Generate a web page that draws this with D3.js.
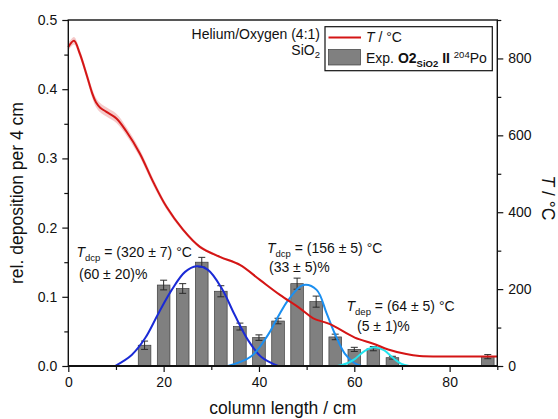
<!DOCTYPE html>
<html>
<head>
<meta charset="utf-8">
<script src="https://cdn.jsdelivr.net/npm/d3@7"></script>
<style>
  html, body { margin: 0; padding: 0; background: #fff; }
  svg { display: block; font-family: Arial, "Liberation Sans", Helvetica, sans-serif; }
</style>
</head>
<body>
<svg id="chart" width="558" height="419"></svg>
<script>
// Deposition bins (column position in cm, relative deposition per 4 cm, uncertainty)
const binCenters = [16, 20, 24, 28, 32, 36, 40, 44, 48, 52, 56, 60, 64, 68, 88];
const binValues  = [0.030, 0.117, 0.112, 0.150, 0.108, 0.057, 0.041, 0.065, 0.119, 0.093, 0.042, 0.024, 0.025, 0.012, 0.0135];
const binErrors  = [0.006, 0.007, 0.007, 0.007, 0.008, 0.005, 0.004, 0.004, 0.008, 0.008, 0.004, 0.003, 0.003, 0.002, 0.003];

// Temperature profile along the column (cm, °C) with its uncertainty band
const tempPos  = [0, 1.2, 2.4, 3.9, 5.0, 5.8, 6.7, 8.0, 10.1, 12.2, 15.0, 17.8, 20.6, 24.1, 27.6, 31.8, 36.0, 40.2, 44.4, 48.6, 51.4, 54.9, 60.1, 64.0, 67.1, 70.9, 73.7, 79.3, 85.0, 90.0];
const tempVals = [830, 846, 813, 755, 710, 686, 672, 661, 644, 610, 553, 479, 414, 354, 310, 284, 263, 224, 185, 150, 124, 109, 74, 58, 43, 31, 26, 24.5, 24.5, 24.5];
const tempErr  = [10, 10, 10, 11, 12, 12, 12, 12, 12, 11, 10, 9, 7, 5, 4, 3, 3, 2, 2, 2, 2, 2, 1.5, 1.5, 1, 1, 1, 1, 1, 1];

// Fitted deposition peaks (cm, relative deposition)
const peak320x = [9.8, 13.3, 16.1, 18.9, 21.7, 24.5, 26.9, 29.3, 32.2, 34.9, 37.7, 40.5, 44.0];
const peak320y = [0, 0.016, 0.040, 0.076, 0.110, 0.136, 0.144, 0.139, 0.112, 0.074, 0.0375, 0.013, 0];
const peak156x = [33.5, 38.4, 41.9, 44.0, 46.1, 49.3, 52.1, 54.2, 55.9, 58.0, 60.1, 61.5];
const peak156y = [0, 0.014, 0.045, 0.071, 0.095, 0.117, 0.110, 0.076, 0.047, 0.018, 0.004, 0];
const peak64x  = [56.5, 58.5, 60.1, 62.2, 64.3, 66.2, 67.1, 68.6, 69.9, 71.5];
const peak64y  = [0, 0.004, 0.010, 0.022, 0.027, 0.023, 0.018, 0.009, 0.003, 0];

// Axis ticks
const xTicks = [0, 20, 40, 60, 80];
const xMinorTicks = [10, 30, 50, 70, 90];
const yTicks = [0, 0.1, 0.2, 0.3, 0.4, 0.5];
const yMinorTicks = [0.05, 0.15, 0.25, 0.35, 0.45];
const tTicks = [0, 200, 400, 600, 800];
const tMinorTicks = [100, 300, 500, 700, 900];

const svg = d3.select("#chart");
const plotL = 68.3, plotR = 497.3, plotT = 20, plotB = 366;

const x = d3.scaleLinear().domain([0, 90]).range([plotL, plotR]);
const y = d3.scaleLinear().domain([0, 0.5]).range([plotB, plotT]);
const yT = d3.scaleLinear().domain([0, 900]).range([plotB, plotT]);

// Bars
const barW = x(2.65) - x(0);
svg.append("g").selectAll("rect").data(binCenters).join("rect")
  .attr("x", (d) => x(d) - barW / 2)
  .attr("width", barW)
  .attr("y", (d, i) => y(binValues[i]))
  .attr("height", (d, i) => y(0) - y(binValues[i]))
  .attr("fill", "#808080")
  .attr("stroke", "#3c3c3c")
  .attr("stroke-width", 0.7);

// Error bars
const eb = svg.append("g").attr("stroke", "#2a2a2a").attr("stroke-width", 1);
binCenters.forEach((c, i) => {
  const lo = y(binValues[i] - binErrors[i]), hi = y(binValues[i] + binErrors[i]);
  eb.append("line").attr("x1", x(c)).attr("x2", x(c)).attr("y1", lo).attr("y2", hi);
  eb.append("line").attr("x1", x(c) - 3.5).attr("x2", x(c) + 3.5).attr("y1", lo).attr("y2", lo);
  eb.append("line").attr("x1", x(c) - 3.5).attr("x2", x(c) + 3.5).attr("y1", hi).attr("y2", hi);
});

// Fit curves
const fitLine = d3.line().x((d) => x(d[0])).y((d) => y(d[1])).curve(d3.curveCatmullRom);
const fits = [
  { xs: peak320x, ys: peak320y, color: "#1a2ad6" },
  { xs: peak156x, ys: peak156y, color: "#1b8ff0" },
  { xs: peak64x,  ys: peak64y,  color: "#22e4ee" }
];
fits.forEach((f) => {
  svg.append("path")
    .datum(f.xs.map((v, i) => [v, f.ys[i]]))
    .attr("d", fitLine)
    .attr("fill", "none")
    .attr("stroke", f.color)
    .attr("stroke-width", 2);
});

// Temperature band and line
const tempData = tempPos.map((p, i) => ({ p, t: tempVals[i], e: tempErr[i] }));
svg.append("path").datum(tempData)
  .attr("d", d3.area().x((d) => x(d.p)).y0((d) => yT(d.t - d.e)).y1((d) => yT(d.t + d.e)).curve(d3.curveCatmullRom))
  .attr("fill", "#e88a8a").attr("opacity", 0.45);
svg.append("path").datum(tempData)
  .attr("d", d3.line().x((d) => x(d.p)).y((d) => yT(d.t)).curve(d3.curveCatmullRom))
  .attr("fill", "none").attr("stroke", "#d41515").attr("stroke-width", 2);

// Axes
const fmt1 = d3.format(".1f");
const axisStyle = (g) => {
  g.selectAll("text").attr("font-size", 14).attr("fill", "#111").attr("font-family", "Arial, 'Liberation Sans', sans-serif");
  g.selectAll("line").attr("stroke", "#111").attr("stroke-width", 1.2);
  g.select(".domain").remove();
};
svg.append("g").attr("transform", `translate(0,${plotB})`)
  .call(d3.axisBottom(x).tickValues(xTicks).tickSize(6).tickPadding(5)).call(axisStyle);
svg.append("g").attr("transform", `translate(0,${plotB})`)
  .call(d3.axisBottom(x).tickValues(xMinorTicks).tickSize(4).tickFormat("")).call(axisStyle);
svg.append("g").attr("transform", `translate(${plotL},0)`)
  .call(d3.axisLeft(y).tickValues(yTicks).tickSize(6).tickPadding(5).tickFormat(fmt1)).call(axisStyle);
svg.append("g").attr("transform", `translate(${plotL},0)`)
  .call(d3.axisLeft(y).tickValues(yMinorTicks).tickSize(4).tickFormat("")).call(axisStyle);
svg.append("g").attr("transform", `translate(${plotR},0)`)
  .call(d3.axisRight(yT).tickValues(tTicks).tickSize(6).tickPadding(5)).call(axisStyle);
svg.append("g").attr("transform", `translate(${plotR},0)`)
  .call(d3.axisRight(yT).tickValues(tMinorTicks).tickSize(4).tickFormat("")).call(axisStyle);

// Frame
svg.append("rect").attr("x", plotL).attr("y", plotT).attr("width", plotR - plotL).attr("height", plotB - plotT)
  .attr("fill", "none").attr("stroke", "#111").attr("stroke-width", 1.4);
svg.append("line").attr("x1", plotL).attr("x2", plotR).attr("y1", plotB).attr("y2", plotB)
  .attr("stroke", "#111").attr("stroke-width", 2);

// Axis titles
svg.append("text").attr("x", (plotL + plotR) / 2).attr("y", 414).attr("text-anchor", "middle")
  .attr("font-size", 17.5).attr("fill", "#111").text("column length / cm");
svg.append("text").attr("transform", `translate(23,${(plotT + plotB) / 2}) rotate(-90)`).attr("text-anchor", "middle")
  .attr("font-size", 17.5).attr("fill", "#111").text("rel. deposition per 4 cm");
const tLab = svg.append("text").attr("transform", `translate(542,198) rotate(90)`).attr("text-anchor", "middle")
  .attr("font-size", 17.5).attr("fill", "#111");
tLab.append("tspan").attr("font-style", "italic").text("T");
tLab.append("tspan").text(" / °C");

// Condition labels
svg.append("text").attr("x", 320).attr("y", 38.5).attr("text-anchor", "end").attr("font-size", 14).attr("fill", "#111")
  .text("Helium/Oxygen (4:1)");
const sio = svg.append("text").attr("x", 320).attr("y", 54.5).attr("text-anchor", "end").attr("font-size", 14).attr("fill", "#111");
sio.append("tspan").text("SiO");
sio.append("tspan").attr("font-size", 9.5).attr("dy", 3.5).text("2");

// Legend
const lg = svg.append("g");
lg.append("rect").attr("x", 325).attr("y", 26.7).attr("width", 167.3).attr("height", 44)
  .attr("fill", "#fff").attr("stroke", "#111").attr("stroke-width", 1.2);
lg.append("line").attr("x1", 328.5).attr("x2", 361).attr("y1", 37.5).attr("y2", 37.5)
  .attr("stroke", "#d41515").attr("stroke-width", 2);
lg.append("rect").attr("x", 328.5).attr("y", 49.5).attr("width", 32).attr("height", 15.5)
  .attr("fill", "#808080").attr("stroke", "#3c3c3c").attr("stroke-width", 0.7);
const l1 = lg.append("text").attr("x", 366).attr("y", 42).attr("font-size", 14).attr("fill", "#111");
l1.append("tspan").attr("font-style", "italic").text("T");
l1.append("tspan").text(" / °C");
const l2 = lg.append("text").attr("x", 366).attr("y", 62.5).attr("font-size", 14).attr("fill", "#111");
l2.append("tspan").text("Exp. ");
l2.append("tspan").attr("font-weight", "bold").text("O2");
l2.append("tspan").attr("font-weight", "bold").attr("font-size", 9.5).attr("dy", 4).text("SiO2");
l2.append("tspan").attr("font-weight", "bold").attr("dy", -4).text(" II ");
l2.append("tspan").attr("font-size", 9.5).attr("dy", -5).text("204");
l2.append("tspan").attr("dy", 5).text("Po");

// Peak annotations
function annotate(xPos, yPos, sub, rest, x2, y2, second) {
  const t = svg.append("text").attr("x", xPos).attr("y", yPos).attr("font-size", 14).attr("fill", "#111");
  t.append("tspan").attr("font-style", "italic").text("T");
  t.append("tspan").attr("font-size", 9.5).attr("dy", 4).text(sub);
  t.append("tspan").attr("dy", -4).text(rest);
  svg.append("text").attr("x", x2).attr("y", y2).attr("font-size", 14).attr("fill", "#111").text(second);
}
annotate(76.5, 257, "dcp", " = (320 ± 7) °C", 79, 279, "(60 ± 20)%");
annotate(267, 253, "dcp", " = (156 ± 5) °C", 269, 272, "(33 ± 5)%");
annotate(346.5, 311, "dep", " = (64 ± 5) °C", 357, 331, "(5 ± 1)%");
</script>
</body>
</html>
